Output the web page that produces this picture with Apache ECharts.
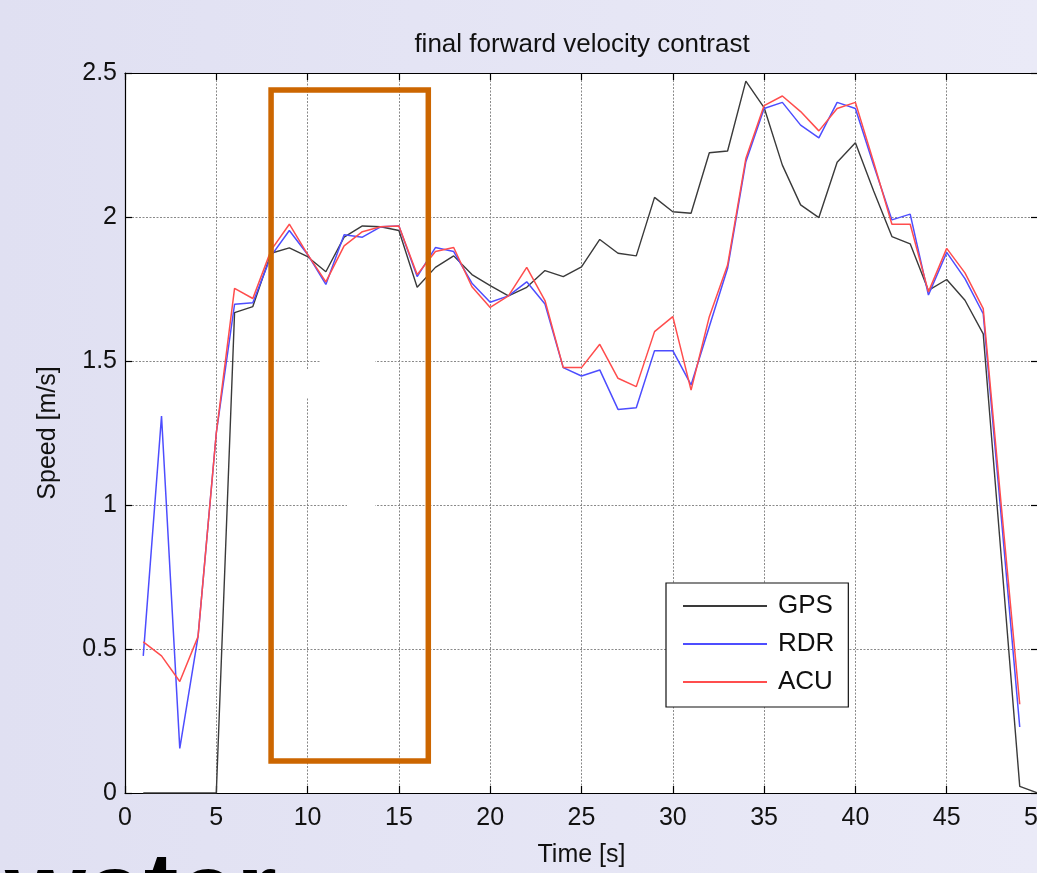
<!DOCTYPE html>
<html>
<head>
<meta charset="utf-8">
<script src="https://cdn.jsdelivr.net/npm/echarts@6/dist/echarts.min.js"></script>
<style>
html,body{margin:0;padding:0;}
#c{width:1037px;height:873px;}
</style>
</head>
<body>
<div id="c"></div>
<script>
var time = [1,2,3,4,5,6,7,8,9,10,11,12,13,14,15,16,17,18,19,20,21,22,23,24,25,26,27,28,29,30,31,32,33,34,35,36,37,38,39,40,41,42,43,44,45,46,47,48,49,50];
var gps = [0,0,0,0,0,1.668,1.689,1.874,1.893,1.862,1.81,1.93,1.969,1.966,1.953,1.756,1.825,1.865,1.80,1.762,1.726,1.756,1.814,1.793,1.827,1.922,1.874,1.865,2.068,2.018,2.013,2.223,2.229,2.472,2.38,2.18,2.042,1.998,2.19,2.258,2.09,1.932,1.907,1.745,1.783,1.711,1.594,0.81,0.023,0.0];
var rdr = [0.476,1.309,0.155,0.543,1.25,1.697,1.702,1.865,1.953,1.87,1.766,1.938,1.93,1.966,1.969,1.793,1.894,1.88,1.77,1.704,1.726,1.775,1.698,1.477,1.448,1.469,1.332,1.338,1.536,1.536,1.417,1.62,1.822,2.192,2.377,2.398,2.319,2.275,2.398,2.377,2.18,1.99,2.01,1.729,1.877,1.786,1.664,0.95,0.229];
var acu = [0.525,0.476,0.387,0.543,1.25,1.752,1.717,1.885,1.975,1.87,1.775,1.90,1.949,1.966,1.969,1.80,1.88,1.894,1.758,1.686,1.726,1.825,1.71,1.477,1.477,1.558,1.44,1.411,1.602,1.654,1.399,1.654,1.833,2.203,2.387,2.42,2.366,2.299,2.377,2.398,2.19,1.975,1.975,1.74,1.891,1.806,1.682,0.99,0.308];
var seriesNames = ['GPS','RDR','ACU'];
var xTicks = {min:0, max:50, interval:5};
var yTicks = {min:0, max:2.5, interval:0.5};
var highlightBox = [[8.0, 2.441],[16.61, 0.111]];

function pairs(vals){ return vals.map(function(v,i){ return [time[i], v]; }); }

var FONT = '"Liberation Sans", Arial, Helvetica, sans-serif';
var chart = echarts.init(document.getElementById('c'), null, {renderer:'canvas', width:1037, height:873});

var axisCommon = {
  type:'value',
  axisLine:{show:true, onZero:false, lineStyle:{color:'#000', width:1.2}},
  axisTick:{show:true, inside:true, length:7, lineStyle:{color:'#000', width:1.2}},
};

var option = {
  animation:false,
  backgroundColor:{type:'linear', x:0, y:0, x2:1, y2:0, colorStops:[{offset:0,color:'#E0E0F2'},{offset:1,color:'#EAEAF7'}]},
  title:{
    text:'final forward velocity contrast',
    left:577, top:27, textAlign:'center',
    textStyle:{fontFamily:FONT, fontSize:26, fontWeight:'normal', color:'#111'}
  },
  grid:{left:125, top:73, width:913, height:720, show:true, backgroundColor:'#fff', borderWidth:0,
        containLabel:false, outerBoundsMode:'none'},
  legend:{
    data:seriesNames,
    orient:'vertical',
    left:666, top:583,
    backgroundColor:'#fff',
    borderColor:'#111', borderWidth:1.2, borderRadius:0,
    padding:[10,14,12,16],
    itemGap:12,
    itemWidth:84, itemHeight:26,
    itemStyle:{opacity:0},
    textStyle:{fontFamily:FONT, fontSize:26, color:'#111', lineHeight:26, padding:[0,0,0,6]}
  },
  xAxis:[
    Object.assign({}, axisCommon, {
      position:'bottom', min:xTicks.min, max:xTicks.max, interval:xTicks.interval,
      name:'Time [s]', nameLocation:'middle', nameGap:50,
      nameTextStyle:{fontFamily:FONT, fontSize:25, color:'#111'},
      axisLabel:{fontFamily:FONT, fontSize:25, color:'#111', margin:13, showMaxLabel:true},
      splitLine:{show:true, lineStyle:{color:'#8a8a8a', type:[2,1.5], width:1}}
    }),
    Object.assign({}, axisCommon, {
      position:'top', min:xTicks.min, max:xTicks.max, interval:xTicks.interval,
      axisLabel:{show:false}, splitLine:{show:false}
    })
  ],
  yAxis:[
    Object.assign({}, axisCommon, {
      position:'left', min:yTicks.min, max:yTicks.max, interval:yTicks.interval,
      name:'Speed [m/s]', nameLocation:'middle', nameGap:64,
      nameTextStyle:{fontFamily:FONT, fontSize:25, color:'#111'},
      axisLabel:{fontFamily:FONT, fontSize:25, color:'#111', margin:8},
      splitLine:{show:true, lineStyle:{color:'#8a8a8a', type:[2,1.5], width:1}}
    }),
    Object.assign({}, axisCommon, {
      position:'right', min:yTicks.min, max:yTicks.max, interval:yTicks.interval,
      axisLabel:{show:false}, splitLine:{show:false}
    })
  ],
  series:[
    {name:'GPS', type:'line', data:pairs(gps), symbol:'none', color:'#3a3a3a',
     lineStyle:{color:'#3a3a3a', width:1.4}, z:3,
     markArea:{silent:true, z:10,
       itemStyle:{color:'rgba(0,0,0,0)', borderColor:'#CC6600', borderWidth:5.5},
       data:[[{coord:highlightBox[0]},{coord:highlightBox[1]}]]}},
    {name:'RDR', type:'line', data:pairs(rdr), symbol:'none', color:'#4d4dff',
     lineStyle:{color:'#4d4dff', width:1.5}, z:4},
    {name:'ACU', type:'line', data:pairs(acu), symbol:'none', color:'#ff4d4d',
     lineStyle:{color:'#ff4d4d', width:1.5}, z:5}
  ],
  graphic:[
    {type:'rect', z:1, silent:true, shape:{x:321, y:356, width:54, height:8}, style:{fill:'#fff'}},
    {type:'rect', z:1, silent:true, shape:{x:347, y:500, width:28, height:8}, style:{fill:'#fff'}},
    {type:'rect', z:1, silent:true, shape:{x:302, y:370, width:10, height:28}, style:{fill:'#fff'}},
    {type:'text', left:5, top:844, z:100, silent:true,
     style:{text:'water', font:'bold 104px ' + FONT, fill:'#000'}}
  ]
};
chart.setOption(option);
</script>
</body>
</html>
